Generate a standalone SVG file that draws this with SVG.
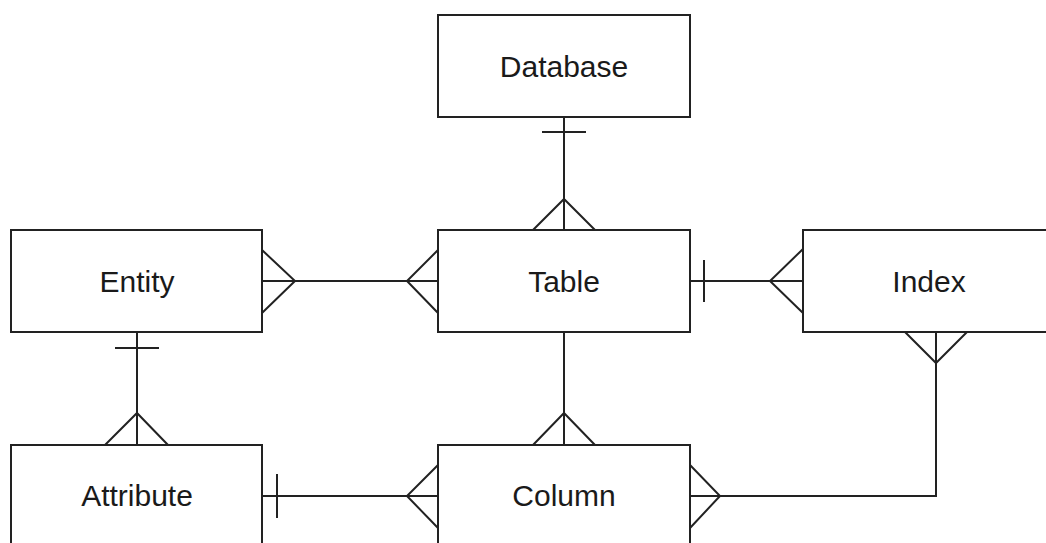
<svg xmlns="http://www.w3.org/2000/svg" width="1046" height="543" viewBox="0 0 1046 543">
<style>
.box{fill:#fff;stroke:#222;stroke-width:2}
.lbl{font-family:"Liberation Sans",Arial,sans-serif;font-size:30px;fill:#1a1a1a;text-anchor:middle}
.ln{fill:none;stroke:#222;stroke-width:2}
</style>
<rect width="1046" height="543" fill="#fff"/>
<g id="connectors">
<!-- Database - Table -->
<path class="ln" d="M564 117V230M542 132H586M533 230L564 199L595 230"/>
<!-- Entity - Table -->
<path class="ln" d="M262 281H438M262 250L295 281L262 313M438 250L407 281L438 313"/>
<!-- Table - Index -->
<path class="ln" d="M690 281H803M704 260V302M803 249L770 281L803 313"/>
<!-- Entity - Attribute -->
<path class="ln" d="M137 332V445M115 348H159M105 445L137 413L168 445"/>
<!-- Table - Column -->
<path class="ln" d="M564 332V445M533 445L564 413L595 445"/>
<!-- Attribute - Column -->
<path class="ln" d="M262 496H438M277 474V518M438 465L407 496L438 528"/>
<!-- Column - Index -->
<path class="ln" d="M690 496H936V332M690 465L720 496L690 528M905 332L936 363L967 332"/>
</g>
<g id="database"><rect class="box" x="438" y="15" width="252" height="102"/><text class="lbl" x="564" y="77">Database</text></g>
<g id="entity"><rect class="box" x="11" y="230" width="251" height="102"/><text class="lbl" x="137" y="292">Entity</text></g>
<g id="table"><rect class="box" x="438" y="230" width="252" height="102"/><text class="lbl" x="564" y="292">Table</text></g>
<g id="index"><rect class="box" x="803" y="230" width="252" height="102"/><text class="lbl" x="929" y="292">Index</text></g>
<g id="attribute"><rect class="box" x="11" y="445" width="251" height="102"/><text class="lbl" x="137" y="506">Attribute</text></g>
<g id="column"><rect class="box" x="438" y="445" width="252" height="102"/><text class="lbl" x="564" y="506">Column</text></g>
</svg>
